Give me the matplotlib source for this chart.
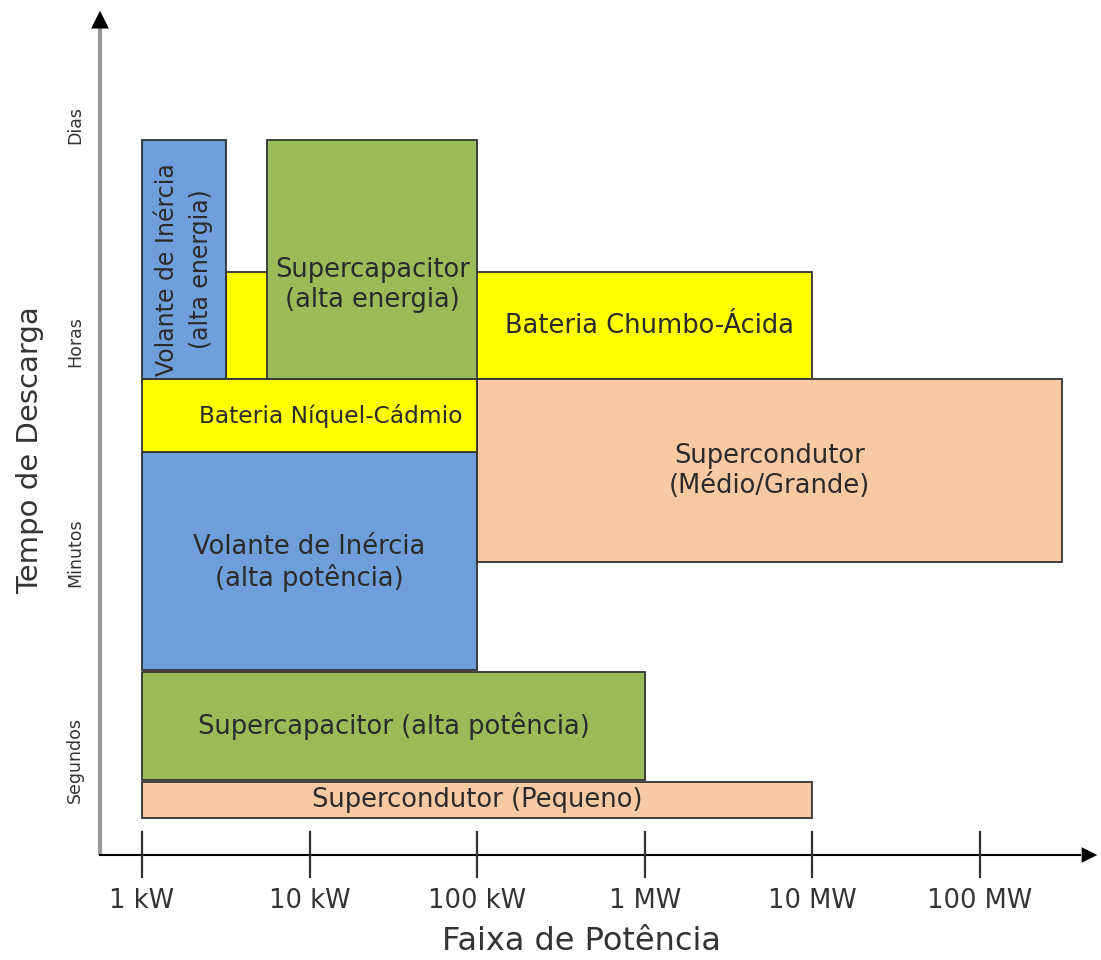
import numpy as np
import matplotlib
matplotlib.use("Agg")
import matplotlib.pyplot as plt

# Dados: faixa de potência (kW) e tempo de descarga (escala qualitativa)
tecnologias = [
    "Bateria Chumbo-Ácida",
    "Supercondutor (Pequeno)",
    "Supercapacitor (alta potência)",
    "Volante de Inércia\n(alta potência)",
    "Supercondutor\n(Médio/Grande)",
    "Bateria Níquel-Cádmio",
    "Supercapacitor\n(alta energia)",
    "Volante de Inércia\n(alta energia)",
]
pot_min_kw = [3.16, 1, 1, 1, 100, 1, 5.6, 1]
pot_max_kw = [1e4, 1e4, 1e3, 100, 3.1e5, 100, 100, 3.16]
tempo_min = [4.76, 0.37, 0.75, 1.85, 2.93, 4.03, 4.76, 4.76]
tempo_max = [5.83, 0.73, 1.83, 4.03, 4.76, 4.76, 7.15, 7.15]

ticks_kw = [1, 10, 100, 1e3, 1e4, 1e5]
ticks_pot = ["1 kW", "10 kW", "100 kW", "1 MW", "10 MW", "100 MW"]
niveis_tempo = [0.95, 3.02, 5.13, 7.3]
ticks_tempo = ["Segundos", "Minutos", "Horas", "Dias"]

azul = "#6f9fdb"
verde = "#9bbb59"
amarelo = "#ffff00"
pessego = "#f9c9a3"
cores = [amarelo, pessego, verde, azul, pessego, amarelo, verde, azul]

# deslocamento do texto (décadas, unidades de tempo) e tamanho
desloc = {
    "Bateria Chumbo-Ácida": (0.78, 0.0),
    "Bateria Níquel-Cádmio": (0.125, 0.0),
    "Supercapacitor\n(alta energia)": (0.0, -0.25),
    "Volante de Inércia\n(alta energia)": (0.0, -0.1),
    "Volante de Inércia\n(alta potência)": (0.0, -0.02),
}
tam = {"Bateria Níquel-Cádmio": 16.8, "Volante de Inércia\n(alta energia)": 17}

fig = plt.figure(figsize=(11.01, 9.6), dpi=100)
ax = fig.add_axes([0, 0, 1, 1])
ax.set_xscale("log")
# 1 década = 167.6 px, 1 kW em x=142 px; 1 unidade de tempo = 100 px, zero em y=855 px
ax.set_xlim(10 ** (-142 / 167.6), 10 ** ((1101 - 142) / 167.6))
ax.set_ylim((855 - 960) / 100, 855 / 100)
ax.axis("off")

for nome, x0, x1, y0, y1, cor in zip(tecnologias, pot_min_kw, pot_max_kw,
                                      tempo_min, tempo_max, cores):
    ax.barh(y0, x1 - x0, left=x0, height=y1 - y0, align="edge",
            color=cor, edgecolor="#333333", linewidth=1.3)
    dx, dy = desloc.get(nome, (0.0, 0.0))
    xc = 10 ** ((np.log10(x0) + np.log10(x1)) / 2 + dx)
    yc = (y0 + y1) / 2 + dy
    vertical = "alta energia" in nome and "Volante" in nome
    ax.text(xc, yc, nome, ha="center", va="center", rotation=90 if vertical else 0,
            fontsize=tam.get(nome, 18.5), color="#2b2b2b",
            linespacing=1.55 if vertical else 1.2)

# eixos com setas
x_eixo = 10 ** ((100 - 142) / 167.6)
x_fim = 10 ** ((1100 - 142) / 167.6)
ax.plot([x_eixo, x_eixo], [0, 8.3], color="#999999", lw=3, solid_capstyle="butt")
ax.annotate("", xy=(x_eixo, 8.47), xytext=(x_eixo, 8.1),
            arrowprops=dict(arrowstyle="-|>", color="black", lw=0,
                            mutation_scale=32))
ax.plot([x_eixo, 10 ** ((1080 - 142) / 167.6)], [0, 0], color="black", lw=1.5)
ax.annotate("", xy=(x_fim, 0), xytext=(10 ** ((1060 - 142) / 167.6), 0),
            arrowprops=dict(arrowstyle="-|>", color="black", lw=0,
                            mutation_scale=28))

for xt, rot in zip(ticks_kw, ticks_pot):
    ax.plot([xt, xt], [-0.22, 0.23], color="#333333", lw=1.6)
    ax.text(xt, -0.46, rot, ha="center", va="center", fontsize=18.5, color="#333333")

x_rot_y = 10 ** ((75 - 142) / 167.6)
for yt, rot in zip(niveis_tempo, ticks_tempo):
    ax.text(x_rot_y, yt, rot, ha="center", va="center", rotation=90,
            fontsize=12.5, color="#333333")

ax.text(10 ** ((581 - 142) / 167.6), -0.86, "Faixa de Potência", ha="center",
        va="center", fontsize=23, color="#333333")
ax.text(10 ** ((30 - 142) / 167.6), 4.05, "Tempo de Descarga", ha="center",
        va="center", rotation=90, fontsize=21, color="#333333")

fig.savefig("out.png", dpi=100, facecolor="white")
